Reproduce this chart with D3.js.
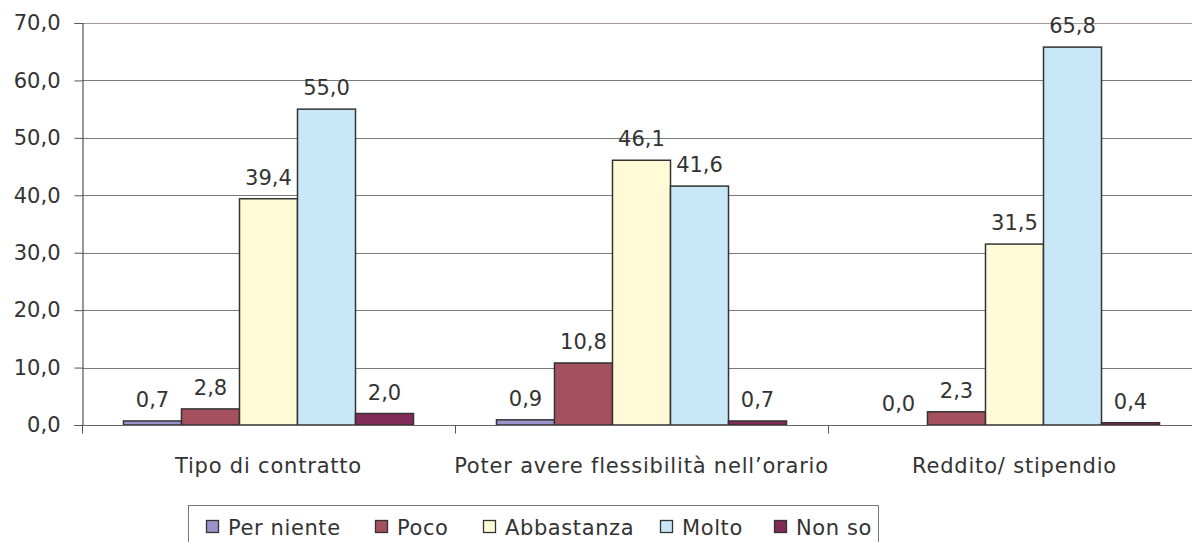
<!DOCTYPE html>
<html>
<head>
<meta charset="utf-8">
<script src="https://cdn.jsdelivr.net/npm/d3@7"></script>
<style>
  html, body { margin: 0; padding: 0; background: #fff; }
  svg { display: block; font-family: "DejaVu Sans", Verdana, sans-serif; }
</style>
</head>
<body>
<svg id="chart" width="1192" height="542"></svg>
<script>
// Categories and series
const categories = ["Tipo di contratto", "Poter avere flessibilità nell’orario", "Reddito/ stipendio"];
const seriesNames = ["Per niente", "Poco", "Abbastanza", "Molto", "Non so"];
const perNiente  = [0.7, 0.9, 0.0];
const poco       = [2.8, 10.8, 2.3];
const abbastanza = [39.4, 46.1, 31.5];
const molto      = [55.0, 41.6, 65.8];
const nonSo      = [2.0, 0.7, 0.4];
const yTicks = [0, 10, 20, 30, 40, 50, 60, 70];

const seriesValues = [perNiente, poco, abbastanza, molto, nonSo];
const colors = ["#9b93cb", "#a5505f", "#fffbd6", "#c8e8f8", "#822a58"];

const svg = d3.select("#chart");
const plot = { left: 82, right: 1201, top: 23, bottom: 425 };
const FS = 21;
const fmt = v => d3.format(".1f")(v).replace(".", ",");

const x0 = d3.scaleBand().domain(categories).range([plot.left, plot.right]).paddingInner(0).paddingOuter(0);
const x1 = d3.scaleBand().domain(seriesNames).range([0, x0.bandwidth()]).paddingInner(0).paddingOuter(0.715);
const y = d3.scaleLinear().domain([0, 70]).range([plot.bottom, plot.top]);

// Gridlines
svg.append("g")
  .selectAll("line")
  .data(yTicks.filter(t => t > 0))
  .join("line")
  .attr("x1", plot.left).attr("x2", plot.right)
  .attr("y1", d => Math.round(y(d)) + 0.5).attr("y2", d => Math.round(y(d)) + 0.5)
  .attr("stroke", d => d === 70 ? "#a89a9a" : "#7a7a7a")
  .attr("stroke-width", 1);

// Y axis
const yAxis = svg.append("g")
  .attr("transform", `translate(${plot.left + 0.5},0)`)
  .call(d3.axisLeft(y).tickValues(yTicks).tickFormat(fmt).tickSize(8).tickPadding(14));
yAxis.select(".domain").attr("stroke", "#555").attr("stroke-width", 1.2);
yAxis.selectAll(".tick line").attr("stroke", "#555");
yAxis.selectAll("text").attr("font-size", FS).attr("fill", "#333")
  .attr("font-family", "DejaVu Sans, Verdana, sans-serif");

// Bars
const groups = svg.append("g")
  .selectAll("g")
  .data(categories)
  .join("g")
  .attr("transform", d => `translate(${x0(d)},0)`);

groups.selectAll("rect")
  .data((c, ci) => seriesNames.map((s, si) => ({ s, si, v: seriesValues[si][ci] })))
  .join("rect")
  .attr("x", d => x1(d.s))
  .attr("width", x1.bandwidth())
  .attr("y", d => y(d.v))
  .attr("height", d => y(0) - y(d.v))
  .attr("fill", d => colors[d.si])
  .attr("stroke", d => d.v > 0 ? "#333" : "none")
  .attr("stroke-width", 1.5);

// Value labels
groups.selectAll("text")
  .data((c, ci) => seriesNames.map((s, si) => ({ s, si, v: seriesValues[si][ci] })))
  .join("text")
  .attr("x", d => x1(d.s) + x1.bandwidth() / 2)
  .attr("y", d => y(d.v) - 14)
  .attr("text-anchor", "middle")
  .attr("font-size", FS)
  .attr("fill", "#333")
  .text(d => fmt(d.v));

// X axis
const xAxis = svg.append("g")
  .attr("transform", `translate(0,${plot.bottom + 0.5})`);
xAxis.append("line")
  .attr("x1", plot.left).attr("x2", plot.right)
  .attr("stroke", "#6d6262").attr("stroke-width", 1.2);
xAxis.selectAll("line.tk")
  .data(categories)
  .join("line").attr("class", "tk")
  .attr("x1", d => Math.round(x0(d)) + 0.5).attr("x2", d => Math.round(x0(d)) + 0.5)
  .attr("y1", 0).attr("y2", 8)
  .attr("stroke", "#555");
xAxis.selectAll("text")
  .data(categories)
  .join("text")
  .attr("x", d => x0(d) + x0.bandwidth() / 2)
  .attr("y", 47)
  .attr("text-anchor", "middle")
  .attr("font-size", FS)
  .attr("letter-spacing", 0.8)
  .attr("fill", "#333")
  .text(d => d);

// Legend
const legend = svg.append("g");
legend.append("rect")
  .attr("x", 188.5).attr("y", 505.5)
  .attr("width", 690).attr("height", 50)
  .attr("fill", "#fff").attr("stroke", "#777").attr("stroke-width", 1);
const legendX = [206, 375, 483, 660, 774];
const items = legend.selectAll("g.item")
  .data(seriesNames)
  .join("g").attr("class", "item")
  .attr("transform", (d, i) => `translate(${legendX[i]},0)`);
items.append("rect")
  .attr("x", 0.5).attr("y", 520.5)
  .attr("width", 12).attr("height", 12)
  .attr("fill", (d, i) => colors[i])
  .attr("stroke", "#333").attr("stroke-width", 1.3);
items.append("text")
  .attr("x", 22).attr("y", 535)
  .attr("font-size", FS)
  .attr("letter-spacing", 0.6)
  .attr("fill", "#333")
  .text(d => d);
</script>
</body>
</html>
